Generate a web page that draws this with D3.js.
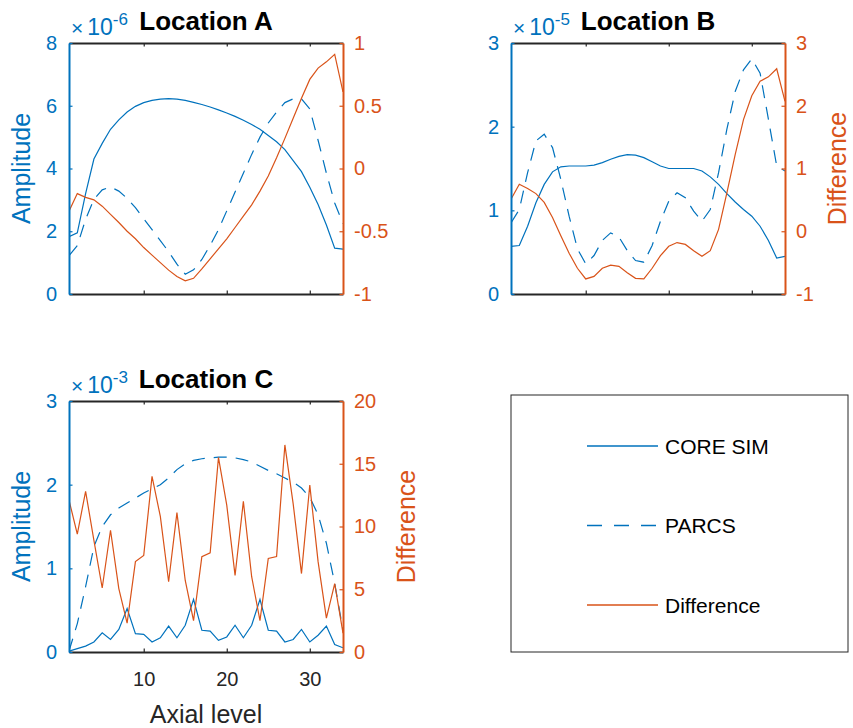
<!DOCTYPE html>
<html lang="en">
<head>
  <meta charset="UTF-8">
  <title>Amplitude and Difference by axial level</title>
  <style>
    body { margin: 0; background: #ffffff; }
    svg { display: block; font-family: "Liberation Sans", Arial, Helvetica, sans-serif; }
  </style>
</head>
<body>
  <svg id="chart" width="853" height="728"></svg>

  <script src="https://d3js.org/d3.v7.min.js"></script>
  <script>
    // axial levels 1..34
    const axialLevels = [1, 2, 3, 4, 5, 6, 7, 8, 9, 10, 11, 12, 13, 14, 15, 16, 17,
      18, 19, 20, 21, 22, 23, 24, 25, 26, 27, 28, 29, 30, 31, 32, 33, 34];
    const xTicks = [10, 20, 30];

    // Location A (amplitude in units of 1e-6)
    const coreSimA = [1.83, 1.95, 3.2, 4.3, 4.8, 5.25, 5.55, 5.8, 5.98, 6.1, 6.17, 6.21, 6.23, 6.21,
      6.17, 6.11, 6.04, 5.96, 5.87, 5.77, 5.66, 5.54, 5.4, 5.25, 5.05, 4.85, 4.6, 4.25, 3.9, 3.4,
      2.85, 2.2, 1.46, 1.43];
    const parcsA = [1.22, 1.54, 2.38, 3.02, 3.32, 3.41, 3.28, 3.05, 2.75, 2.4, 2.05, 1.7, 1.35, 0.95,
      0.63, 0.77, 1.1, 1.55, 2.05, 2.65, 3.25, 3.85, 4.45, 5.0, 5.45, 5.8, 6.1, 6.22, 6.22, 5.9,
      4.9, 3.85, 2.9, 2.25];
    const diffA = [-0.34, -0.2, -0.23, -0.25, -0.3, -0.365, -0.43, -0.5, -0.56, -0.63, -0.69, -0.75,
      -0.81, -0.86, -0.895, -0.875, -0.8, -0.72, -0.64, -0.56, -0.47, -0.38, -0.29, -0.18, -0.06,
      0.085, 0.24, 0.4, 0.56, 0.71, 0.8, 0.85, 0.91, 0.61];
    const ampTicksA = [0, 2, 4, 6, 8];
    const diffTicksA = [-1, -0.5, 0, 0.5, 1];

    // Location B (amplitude in units of 1e-5)
    const coreSimB = [0.57, 0.58, 0.81, 1.09, 1.31, 1.46, 1.52, 1.53, 1.53, 1.53, 1.54, 1.57, 1.61,
      1.645, 1.665, 1.66, 1.63, 1.58, 1.53, 1.5, 1.5, 1.5, 1.5, 1.47, 1.4, 1.31, 1.2, 1.1, 1.01,
      0.93, 0.81, 0.64, 0.43, 0.45];
    const parcsB = [0.85, 1.01, 1.45, 1.83, 1.91, 1.75, 1.37, 0.93, 0.54, 0.36, 0.46, 0.64, 0.73,
      0.68, 0.52, 0.4, 0.38, 0.58, 0.87, 1.11, 1.21, 1.15, 0.99, 0.87, 1.01, 1.45, 1.97, 2.42,
      2.68, 2.81, 2.64, 2.09, 1.53, 1.47];
    const diffB = [0.51, 0.75, 0.68, 0.6, 0.46, 0.22, -0.07, -0.35, -0.59, -0.76, -0.72, -0.59, -0.54,
      -0.56, -0.66, -0.75, -0.76, -0.59, -0.39, -0.24, -0.18, -0.21, -0.31, -0.4, -0.31, 0.03,
      0.61, 1.22, 1.78, 2.16, 2.39, 2.46, 2.59, 2.07];
    const ampTicksB = [0, 1, 2, 3];
    const diffTicksB = [-1, 0, 1, 2, 3];

    // Location C (amplitude in units of 1e-3)
    const coreSimC = [0.01, 0.04, 0.07, 0.12, 0.23, 0.15, 0.27, 0.52, 0.22, 0.21, 0.12, 0.17, 0.31,
      0.17, 0.32, 0.63, 0.26, 0.25, 0.14, 0.18, 0.32, 0.17, 0.32, 0.63, 0.26, 0.25, 0.12, 0.15,
      0.27, 0.12, 0.2, 0.31, 0.09, 0.05];
    const parcsC = [0.01, 0.34, 0.78, 1.26, 1.5, 1.64, 1.72, 1.78, 1.84, 1.9, 1.95, 2.0, 2.08, 2.18,
      2.25, 2.29, 2.31, 2.32, 2.33, 2.33, 2.32, 2.3, 2.27, 2.22, 2.17, 2.13, 2.08, 2.03, 1.96,
      1.85, 1.64, 1.3, 0.82, 0.26];
    const diffC = [12.1, 9.4, 12.8, 8.9, 5.1, 9.7, 5.05, 2.3, 7.2, 7.7, 14.0, 10.8, 5.6, 11.1, 5.7,
      2.5, 7.6, 7.9, 15.5, 11.7, 6.1, 12.0, 6.0, 2.5, 7.45, 7.6, 16.5, 11.8, 6.25, 13.3, 7.2,
      2.7, 5.45, 1.5];
    const ampTicksC = [0, 1, 2, 3];
    const diffTicksC = [0, 5, 10, 15, 20];

    const legendLabels = ["CORE SIM", "PARCS", "Difference"];

    const blue = "#0072BD";
    const orange = "#D95319";
    const dark = "#262626";
    const plotW = 274;
    const plotH = 251;

    const panels = [
      { id: "a", title: "Location A", exp: "-6", core: coreSimA, parcs: parcsA, diff: diffA,
        ampTicks: ampTicksA, diffTicks: diffTicksA, left: 69, top: 43,
        ampLabel: true, diffLabel: false, xLabels: false },
      { id: "b", title: "Location B", exp: "-5", core: coreSimB, parcs: parcsB, diff: diffB,
        ampTicks: ampTicksB, diffTicks: diffTicksB, left: 511, top: 43,
        ampLabel: false, diffLabel: true, xLabels: false },
      { id: "c", title: "Location C", exp: "-3", core: coreSimC, parcs: parcsC, diff: diffC,
        ampTicks: ampTicksC, diffTicks: diffTicksC, left: 69, top: 401,
        ampLabel: true, diffLabel: true, xLabels: true }
    ];

    const svg = d3.select("#chart");

    function drawPanel(p) {
      const g = svg.append("g").attr("transform", `translate(${p.left},${p.top})`);

      const x = d3.scaleLinear().domain([1, 34]).range([0, plotW]);
      const yAmp = d3.scaleLinear()
        .domain(d3.extent(p.ampTicks)).range([plotH, 0]);
      const yDiff = d3.scaleLinear()
        .domain(d3.extent(p.diffTicks)).range([plotH, 0]);

      g.append("clipPath").attr("id", "clip-" + p.id)
        .append("rect").attr("width", plotW).attr("height", plotH);

      const plot = g.append("g").attr("clip-path", `url(#clip-${p.id})`);

      const ampLine = d3.line().x((d, i) => x(axialLevels[i])).y(d => yAmp(d));
      const diffLine = d3.line().x((d, i) => x(axialLevels[i])).y(d => yDiff(d));

      plot.append("path").attr("d", ampLine(p.core))
        .attr("fill", "none").attr("stroke", blue).attr("stroke-width", 1.2);
      plot.append("path").attr("d", ampLine(p.parcs))
        .attr("fill", "none").attr("stroke", blue).attr("stroke-width", 1.2)
        .attr("stroke-dasharray", "13,9");
      plot.append("path").attr("d", diffLine(p.diff))
        .attr("fill", "none").attr("stroke", orange).attr("stroke-width", 1.2);

      // top and bottom box edges with inward ticks
      const top = g.append("g")
        .call(d3.axisTop(x).tickValues(xTicks).tickSize(-3.5).tickSizeOuter(0).tickFormat(""));
      const bottom = g.append("g").attr("transform", `translate(0,${plotH})`)
        .call(d3.axisBottom(x).tickValues(xTicks).tickSize(-3.5).tickSizeOuter(0)
          .tickPadding(20).tickFormat(p.xLabels ? d3.format("d") : ""));
      [top, bottom].forEach(a => {
        a.select(".domain").attr("stroke", dark).attr("stroke-width", 2);
        a.selectAll(".tick line").attr("stroke", dark).attr("stroke-width", 1.2);
        a.selectAll(".tick text").attr("fill", dark).attr("font-size", 20)
          .attr("font-family", "Liberation Sans, Arial, sans-serif");
      });

      const left = g.append("g")
        .call(d3.axisLeft(yAmp).tickValues(p.ampTicks).tickSize(-3.5).tickSizeOuter(0)
          .tickPadding(12).tickFormat(d => String(d)));
      left.select(".domain").attr("stroke", blue).attr("stroke-width", 2);
      left.selectAll(".tick line").attr("stroke", blue).attr("stroke-width", 1.2);
      left.selectAll(".tick text").attr("fill", blue).attr("font-size", 20)
        .attr("font-family", "Liberation Sans, Arial, sans-serif");

      const right = g.append("g").attr("transform", `translate(${plotW},0)`)
        .call(d3.axisRight(yDiff).tickValues(p.diffTicks).tickSize(-3.5).tickSizeOuter(0)
          .tickPadding(11).tickFormat(d => String(d)));
      right.select(".domain").attr("stroke", orange).attr("stroke-width", 2);
      right.selectAll(".tick line").attr("stroke", orange).attr("stroke-width", 1.2);
      right.selectAll(".tick text").attr("fill", orange).attr("font-size", 20)
        .attr("font-family", "Liberation Sans, Arial, sans-serif");

      // exponent marker
      const ex = g.append("text").attr("x", 2).attr("y", -8)
        .attr("fill", blue).attr("font-size", 21);
      ex.append("tspan").text("×");
      ex.append("tspan").attr("dx", 4).attr("font-size", 23).text("10");
      ex.append("tspan").attr("font-size", 17).attr("dy", -10).text(p.exp);

      g.append("text").attr("x", plotW / 2).attr("y", -13)
        .attr("text-anchor", "middle").attr("font-size", 26).attr("font-weight", "bold")
        .attr("fill", "#000").text(p.title);

      if (p.ampLabel) {
        g.append("text")
          .attr("transform", `translate(${30 - p.left},${plotH / 2}) rotate(-90)`)
          .attr("text-anchor", "middle").attr("font-size", 25).attr("fill", blue)
          .text("Amplitude");
      }
      if (p.diffLabel) {
        const lx = p.id === "b" ? 846 - p.left : 415 - p.left;
        g.append("text")
          .attr("transform", `translate(${lx},${plotH / 2}) rotate(-90)`)
          .attr("text-anchor", "middle").attr("font-size", 25).attr("fill", orange)
          .text("Difference");
      }
      if (p.xLabels) {
        g.append("text").attr("x", plotW / 2).attr("y", plotH + 71)
          .attr("text-anchor", "middle").attr("font-size", 25).attr("fill", dark)
          .text("Axial level");
      }
    }

    panels.forEach(drawPanel);

    // legend
    const legend = svg.append("g");
    legend.append("rect").attr("x", 511).attr("y", 395).attr("width", 337).attr("height", 257)
      .attr("fill", "#fff").attr("stroke", dark).attr("stroke-width", 1);
    const legendStyles = [
      { color: blue, dash: null },
      { color: blue, dash: "15,12" },
      { color: orange, dash: null }
    ];
    const legendY = d3.scalePoint().domain(legendLabels).range([446, 605]);
    legendLabels.forEach((label, i) => {
      const y = legendY(label);
      legend.append("line").attr("x1", 587).attr("x2", 658).attr("y1", y).attr("y2", y)
        .attr("stroke", legendStyles[i].color).attr("stroke-width", 1.5)
        .attr("stroke-dasharray", legendStyles[i].dash);
      legend.append("text").attr("x", 665).attr("y", y).attr("dy", "0.36em")
        .attr("font-size", 21).attr("fill", "#000").text(label);
    });
  </script>
</body>
</html>
